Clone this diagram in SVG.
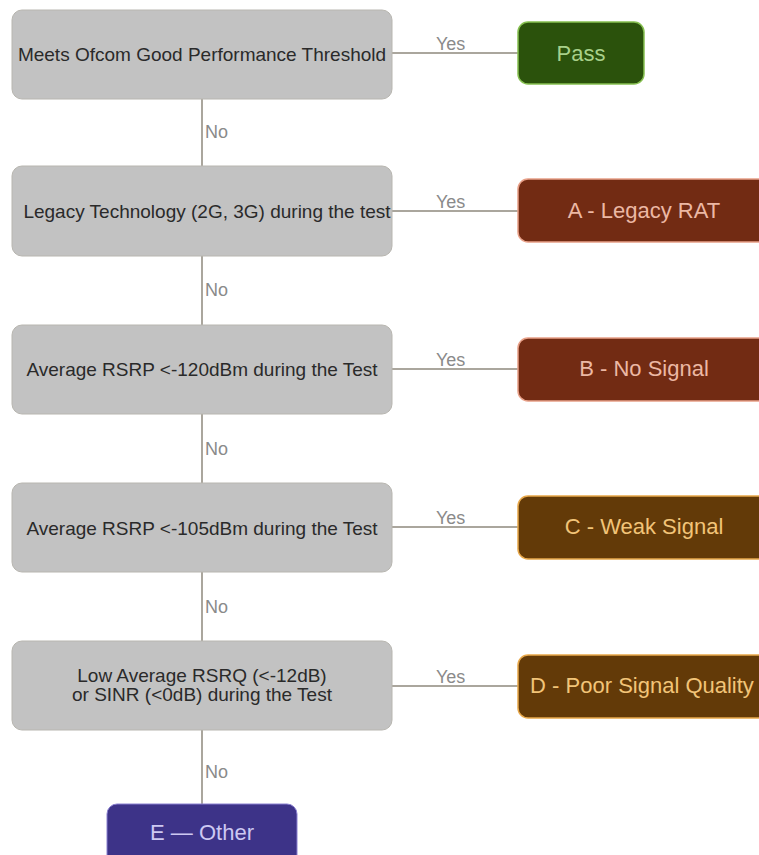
<svg xmlns="http://www.w3.org/2000/svg" width="759" height="855" viewBox="0 0 759 855">
<style>
.q rect{fill:#c2c2c2;stroke:#b8b6b0;stroke-width:1}
.q text{font-family:"Liberation Sans",Arial,sans-serif;font-size:19px;fill:#2a2a2a;text-anchor:middle}
.r text{font-family:"Liberation Sans",Arial,sans-serif;font-size:22px;text-anchor:middle}
.c line{stroke:#aaa69d;stroke-width:2}
.c text{font-family:"Liberation Sans",Arial,sans-serif;font-size:18px;fill:#8a8a8a}
</style>
<rect width="759" height="855" fill="#ffffff"/>
<g class="c" id="connectors">
<line x1="392" y1="53" x2="518" y2="53"/><text x="436" y="50">Yes</text>
<line x1="392" y1="211" x2="518" y2="211"/><text x="436" y="208">Yes</text>
<line x1="392" y1="369" x2="518" y2="369"/><text x="436" y="366">Yes</text>
<line x1="392" y1="527" x2="518" y2="527"/><text x="436" y="524">Yes</text>
<line x1="392" y1="686" x2="518" y2="686"/><text x="436" y="683">Yes</text>
<line x1="202" y1="99" x2="202" y2="166"/><text x="205" y="138">No</text>
<line x1="202" y1="256" x2="202" y2="325"/><text x="205" y="296">No</text>
<line x1="202" y1="414" x2="202" y2="483"/><text x="205" y="455">No</text>
<line x1="202" y1="572" x2="202" y2="641"/><text x="205" y="613">No</text>
<line x1="202" y1="730" x2="202" y2="804"/><text x="205" y="778">No</text>
</g>
<g class="q" id="q1"><rect x="12" y="10" width="380" height="89" rx="10"/><text x="202" y="61">Meets Ofcom Good Performance Threshold</text></g>
<g class="q" id="q2"><rect x="12" y="166" width="380" height="90" rx="10"/><text x="207" y="218">Legacy Technology (2G, 3G) during the test</text></g>
<g class="q" id="q3"><rect x="12" y="325" width="380" height="89" rx="10"/><text x="202" y="376">Average RSRP &lt;-120dBm during the Test</text></g>
<g class="q" id="q4"><rect x="12" y="483" width="380" height="89" rx="10"/><text x="202" y="535">Average RSRP &lt;-105dBm during the Test</text></g>
<g class="q" id="q5"><rect x="12" y="641" width="380" height="89" rx="10"/><text x="202" y="682">Low Average RSRQ (&lt;-12dB)</text><text x="202" y="701">or SINR (&lt;0dB) during the Test</text></g>
<g class="r" id="pass"><rect x="518" y="22" width="126" height="62" rx="10" fill="#2b520c" stroke="#86c050" stroke-width="1.5"/><text x="581" y="61" fill="#a8d08a">Pass</text></g>
<g class="r" id="a"><rect x="518" y="179" width="260" height="63" rx="10" fill="#722b13" stroke="#e8a088" stroke-width="1.5"/><text x="644" y="218" fill="#ecb8a4">A - Legacy RAT</text></g>
<g class="r" id="b"><rect x="518" y="338" width="260" height="63" rx="10" fill="#722b13" stroke="#e8a088" stroke-width="1.5"/><text x="644" y="376" fill="#ecb8a4">B - No Signal</text></g>
<g class="r" id="cc"><rect x="518" y="496" width="260" height="63" rx="10" fill="#633a08" stroke="#e8a84a" stroke-width="1.5"/><text x="644" y="534" fill="#f2c478">C - Weak Signal</text></g>
<g class="r" id="d"><rect x="518" y="655" width="260" height="63" rx="10" fill="#633a08" stroke="#e8a84a" stroke-width="1.5"/><text x="642" y="693" fill="#f2c478">D - Poor Signal Quality</text></g>
<g class="r" id="e"><rect x="107" y="804" width="190" height="70" rx="10" fill="#3d3388" stroke="#8a80d0" stroke-width="1"/><text x="202" y="840" fill="#cdc8f2">E — Other</text></g>
</svg>
